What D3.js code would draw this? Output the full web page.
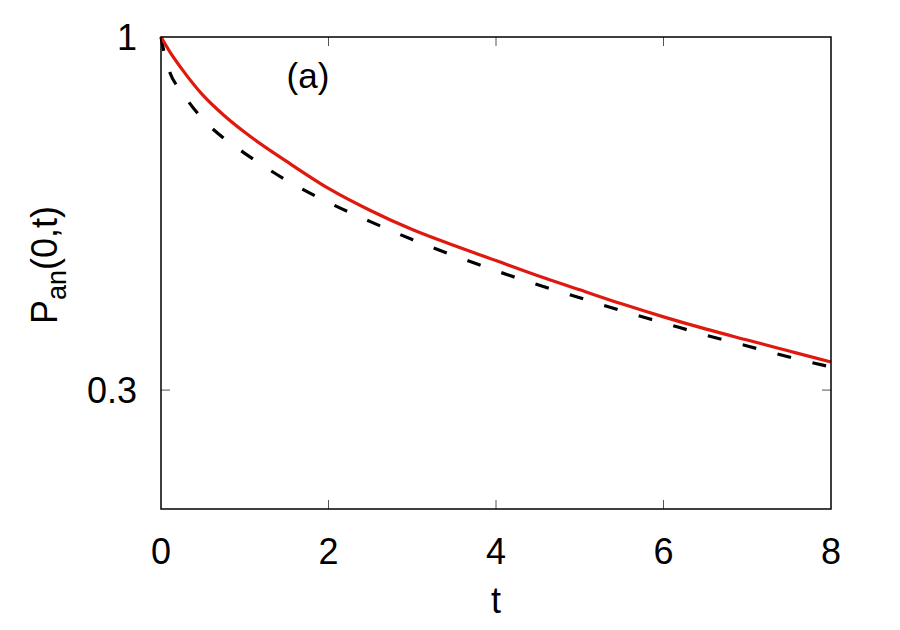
<!DOCTYPE html>
<html><head><meta charset="utf-8">
<script src="https://cdn.jsdelivr.net/npm/d3@7"></script>
<style>body{margin:0;background:#fff}svg{display:block}text{font-family:"Liberation Sans",Arial,sans-serif;fill:#000}</style>
</head><body>
<svg id="c" width="900" height="630"></svg>
<script>
const tRed = [0,0.1,0.25,0.5,0.75,1,1.5,2,2.5,3,3.5,4,4.5,5,5.5,6,6.5,7,7.5,8];
const redValues = [1,0.9533,0.8964,0.8202,0.7659,0.7225,0.6543,0.5967,0.5534,0.5186,0.4910,0.4665,0.4430,0.4223,0.4026,0.3851,0.3696,0.3558,0.3427,0.3301];
const tDash = [0,0.05,0.1,0.25,0.5,0.75,1,1.5,2,2.5,3,3.5,4,4.5,5,5.5,6,6.5,7,7.5,8];
const dashValues = [1,0.9339,0.8902,0.8286,0.7554,0.7079,0.6726,0.6133,0.5687,0.5329,0.5012,0.4745,0.4506,0.4296,0.4110,0.3931,0.3773,0.3620,0.3487,0.3358,0.3245];
const xTicks = [0,2,4,6,8];
const yTicks = [1,0.3];

const svg = d3.select('#c');
const L=161,R=831,T=37,B=509;
const x = d3.scaleLinear().domain([0,8]).range([L,R]);
const y = d3.scaleLog().domain([0.2,1]).range([B,T]);

const g = svg.append('g');
const tk=9;
xTicks.forEach(v=>{
  if(v>0&&v<8){
    g.append('line').attr('x1',x(v)).attr('x2',x(v)).attr('y1',B).attr('y2',B-tk).attr('stroke','#555').attr('stroke-width',1);
    g.append('line').attr('x1',x(v)).attr('x2',x(v)).attr('y1',T).attr('y2',T+tk).attr('stroke','#555').attr('stroke-width',1);
  }
  g.append('text').attr('x',x(v)).attr('y',564).attr('text-anchor','middle').attr('font-size',36).text(v);
});
yTicks.forEach(v=>{
  if(v<1){
    g.append('line').attr('x1',L).attr('x2',L+tk).attr('y1',y(v)).attr('y2',y(v)).attr('stroke','#555').attr('stroke-width',1);
    g.append('line').attr('x1',R).attr('x2',R-tk).attr('y1',y(v)).attr('y2',y(v)).attr('stroke','#555').attr('stroke-width',1);
  }
  g.append('text').attr('x',L-24).attr('y',y(v)+13).attr('text-anchor','end').attr('font-size',36).text(v);
});

const lineR = d3.line().x((d,i)=>x(tRed[i])).y(d=>y(d)).curve(d3.curveMonotoneX);
const lineD = d3.line().x((d,i)=>x(tDash[i])).y(d=>y(d)).curve(d3.curveMonotoneX);
svg.append('path').datum(dashValues).attr('d',lineD).attr('fill','none').attr('stroke','#000').attr('stroke-width',3.2).attr('stroke-dasharray','14,22');
svg.append('path').datum(redValues).attr('d',lineR).attr('fill','none').attr('stroke','#e0190f').attr('stroke-width',3.2);

svg.append('rect').attr('x',L).attr('y',T).attr('width',R-L).attr('height',B-T).attr('fill','none').attr('stroke','#000').attr('stroke-width',1.5);

svg.append('text').attr('x',308).attr('y',88).attr('text-anchor','middle').attr('font-size',35).text('(a)');
svg.append('text').attr('x',x(4)).attr('y',613).attr('text-anchor','middle').attr('font-size',36).text('t');
const yl = svg.append('text').attr('transform','translate(57,265) rotate(-90)').attr('text-anchor','middle').attr('font-size',36);
yl.append('tspan').text('P');
yl.append('tspan').attr('font-size',27).attr('dy',9).text('an');
yl.append('tspan').attr('dy',-9).text('(0,t)');
</script>
</body></html>
